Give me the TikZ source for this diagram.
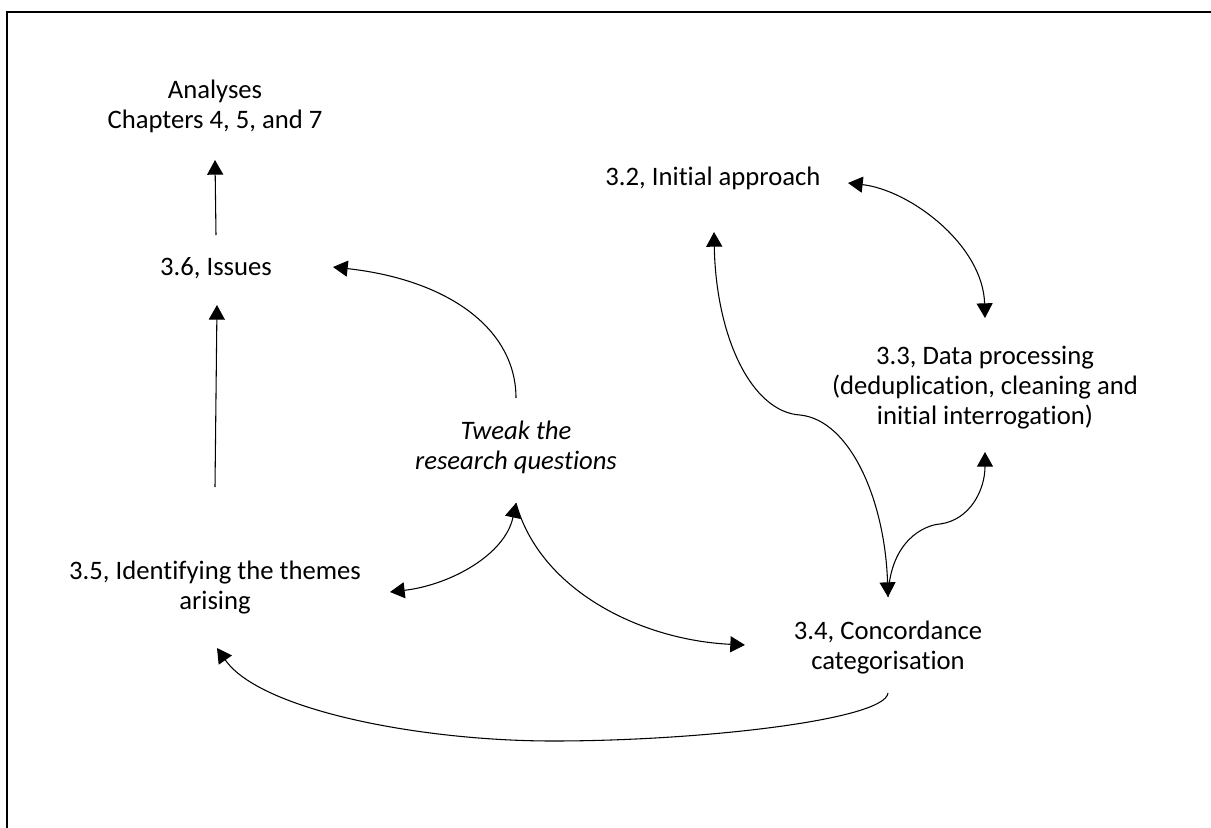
\documentclass[tikz,border=0pt]{standalone}
\usepackage{fontspec}
\setmainfont[Ligatures={NoCommon}]{Carlito}
\usetikzlibrary{arrows.meta,calc}
\begin{document}
\begin{tikzpicture}[x=0.75pt,y=-0.75pt,
  lbl/.style={align=center,inner sep=0pt,font=\fontsize{20}{22.5}\selectfont},
  conn/.style={line width=0.8pt},
  arr/.style={conn,-{Triangle[length=11pt,width=12pt]}},
  barr/.style={conn,{Triangle[length=11pt,width=12pt]}-{Triangle[length=11pt,width=12pt]}},
  frame/.style={line width=1.6pt}]
\useasboundingbox (0,0) rectangle (1211,828);
\draw[frame] (7,840) -- (7,12) -- (1225,12);

\node[lbl] (anal) at (215,106) {Analyses\\Chapters 4, 5, and 7};
\node[lbl] (issues) at (216,268) {3.6, Issues};
\node[lbl] (init) at (713,178) {3.2, Initial approach};
\node[lbl] (data) at (985,388) {3.3, Data processing\\(deduplication, cleaning and\\initial interrogation)};
\node[lbl,font=\fontsize{20}{22.5}\selectfont\itshape] (tweak) at (516,447) {Tweak the\\research questions};
\node[lbl] (themes) at (215,588) {3.5, Identifying the themes\\arising};
\node[lbl] (conc) at (888,648) {3.4, Concordance\\categorisation};

% 3.6 -> Analyses
\draw[arr] ($(issues)+(0,-33)$) -- ($(anal)+(0,54)$);
% 3.5 -> 3.6
\draw[arr] ($(themes)+(0,-101)$) -- ($(issues)+(1,37)$);
% Tweak -> 3.6
\draw[arr] ($(tweak)+(0,-49)$) .. controls ($(tweak)+(0,-117)$) and ($(issues)+(234,12)$) .. ($(issues)+(117,-1)$);
% Tweak <-> 3.5
\draw[barr] ($(tweak)+(0,56)$) .. controls ($(tweak)+(-11,108)$) and ($(themes)+(235,-3)$) .. ($(themes)+(175,4)$);
% Tweak -> 3.4
\draw[arr] ($(tweak)+(0,56)$) .. controls ($(tweak)+(24,143)$) and ($(conc)+(-248,-8)$) .. ($(conc)+(-143,-3)$);
% 3.2 <-> 3.3
\draw[barr] ($(init)+(135,5)$) .. controls ($(init)+(197,12)$) and ($(data)+(-2,-143)$) .. ($(data)+(0,-70)$);
% 3.2 <-> 3.4
\draw[barr] ($(init)+(1,54)$) .. controls ($(init)+(3,160)$) and ($(conc)+(-136,-236)$) .. ($(conc)+(-88,-233)$)
  .. controls ($(conc)+(-38,-228)$) and ($(conc)+(-3,-148)$) .. ($(conc)+(0,-51)$);
% 3.4 -> 3.3
\draw[arr] ($(conc)+(0,-51)$) .. controls ($(conc)+(2,-108)$) and ($(conc)+(37,-123)$) .. ($(conc)+(52,-124)$)
  .. controls ($(data)+(-15,132)$) and ($(data)+(0,102)$) .. ($(data)+(0,64)$);
% 3.4 -> 3.5
\draw[arr] ($(conc)+(0,45)$) .. controls ($(conc)+(-3,72)$) and ($(conc)+(-188,93)$) .. ($(conc)+(-335,93)$)
  .. controls ($(themes)+(205,153)$) and ($(themes)+(45,122)$) .. ($(themes)+(2,60)$);
\end{tikzpicture}
\end{document}
